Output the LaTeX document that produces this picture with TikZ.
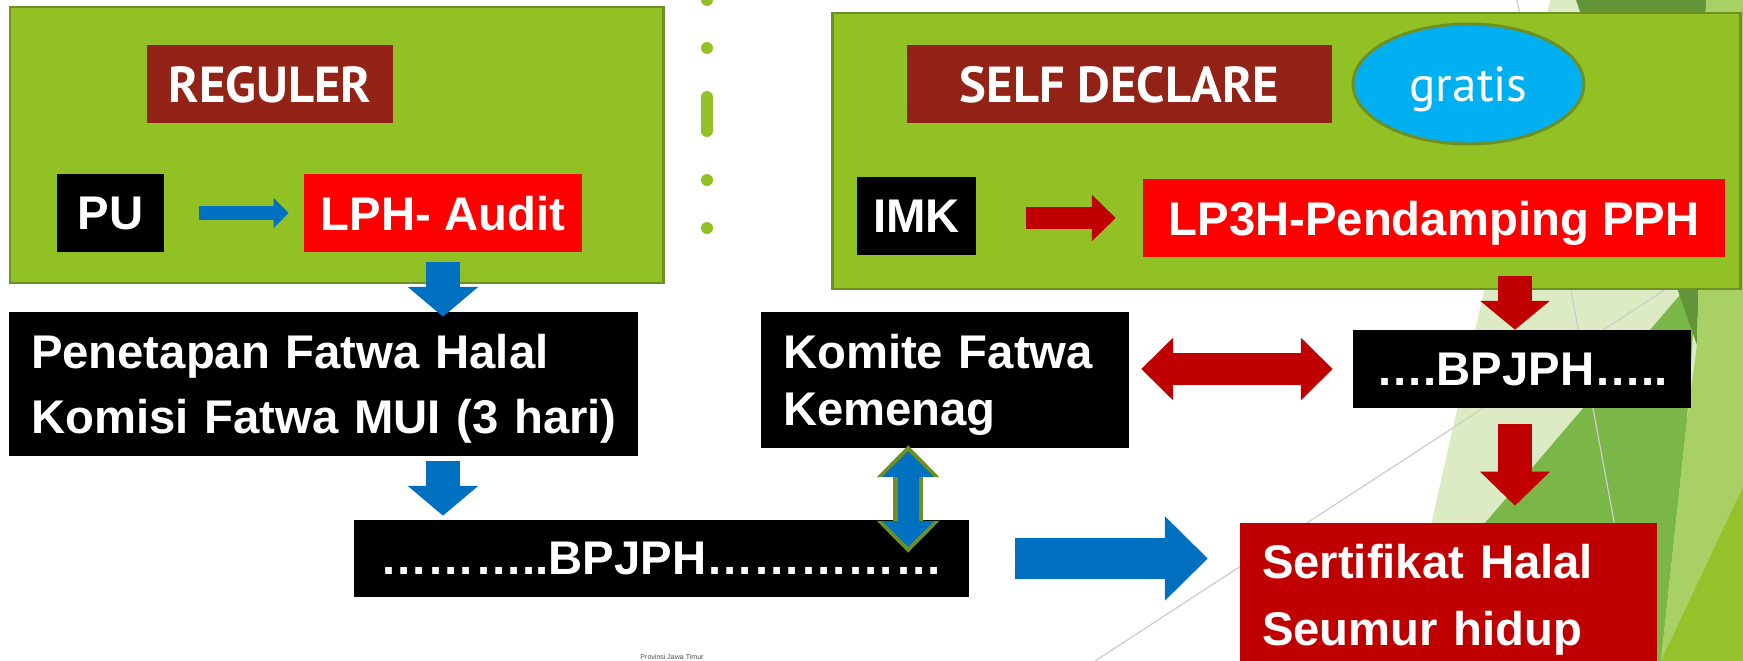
\documentclass[tikz,border=0pt]{standalone}
\usepackage{fontspec}
\setmainfont{Liberation Sans}
\newfontfamily\themefont{PT Sans}
\usetikzlibrary{arrows.meta,shapes.geometric,calc}
\definecolor{panelgreen}{RGB}{146,193,38}
\definecolor{paneledge}{RGB}{110,143,34}
\definecolor{labelbrown}{RGB}{146,35,22}
\definecolor{arrowblue}{RGB}{0,112,192}
\definecolor{arrowred}{RGB}{192,0,0}
\definecolor{skyblue}{RGB}{0,176,240}
\definecolor{facetpale}{RGB}{221,235,196}
\definecolor{facetmid}{RGB}{122,182,72}
\definecolor{facetdark}{RGB}{98,148,56}
\definecolor{facetlight}{RGB}{168,208,100}
\definecolor{facetlime}{RGB}{149,194,43}
\definecolor{facetline}{RGB}{205,205,205}
\newcommand\boxtext[1]{\bfseries\fontsize{26.9pt}{#1}\selectfont}
\tikzset{
  panel/.style={draw=paneledge, fill=panelgreen, line width=1.7pt, inner sep=0pt},
  tag/.style={fill=labelbrown, text=white, inner sep=0pt, text depth=0pt,
    font=\themefont\bfseries\fontsize{28.8pt}{34pt}\selectfont},
  box/.style={text=white, inner sep=0pt, text depth=0pt, font=\boxtext{32pt}},
  multi/.style={box, align=left, inner xsep=0.44cm, font=\boxtext{#1}, text depth=#1},
  blockarr/.style n args={3}{line width=#1, -{Triangle[length=#2, width=#3, line width=0pt]}},
  blockdbl/.style n args={3}{line width=#1,
    {Triangle[length=#2, width=#3, line width=0pt]}-{Triangle[length=#2, width=#3, line width=0pt]}}
}
\begin{document}
\begin{tikzpicture}
\useasboundingbox (0,0) rectangle (34.86,-13.22);
\clip (0,0) rectangle (34.86,-13.22);
\fill[facetpale] (31.00,0) -- (34.86,0) -- (34.86,-13.22) -- (28.00,-13.22) -- cycle;
\fill[facetmid] (27.34,-13.22) -- (33.94,-5.50) -- (33.74,-8.40) -- (33.22,-13.22) -- cycle;
\fill[facetdark] (31.52,0) -- (34.12,0) -- (33.94,-6.90) -- cycle;
\fill[facetlight] (34.12,0) -- (34.86,0) -- (34.86,-13.22) -- (33.22,-13.22) -- (33.74,-8.40) -- (33.94,-6.90) -- cycle;
\fill[facetlime] (34.86,-9.74) -- (34.86,-13.22) -- (33.22,-13.22) -- cycle;
\draw[facetline, line width=0.7pt] (30.34,0) -- (32.80,-13.22);
\draw[facetline, line width=0.7pt] (21.90,-13.22) -- (33.60,-5.60);

\foreach \y in {0,-0.96,-3.60,-4.56}
  \fill[panelgreen] (14.14,\y) circle (0.12);
\draw[panelgreen, line width=0.24cm, line cap=round] (14.14,-1.94) -- (14.14,-2.62);

\node[panel, minimum width=13.06cm, minimum height=5.52cm] (left) at (6.73,-2.90) {};
\node[panel, minimum width=18.16cm, minimum height=5.52cm] (right) at (25.72,-3.02) {};

\node[tag, minimum width=4.92cm, minimum height=1.56cm] (reg) at (5.40,-1.68) {REGULER};
\node[tag, minimum width=8.50cm, minimum height=1.56cm] (self) at (22.39,-1.68) {SELF DECLARE};
\node[ellipse, draw=paneledge, line width=1.7pt, fill=skyblue, text=white, inner sep=0pt, text depth=0pt,
  minimum width=4.62cm, minimum height=2.40cm, font=\themefont\fontsize{28pt}{34pt}\selectfont] (gratis) at (29.37,-1.68) {gratis};

\node[box, fill=black, minimum width=2.14cm, minimum height=1.56cm] (pu) at (2.21,-4.26) {PU};
\node[box, fill=red, minimum width=5.56cm, minimum height=1.56cm] (lph) at (8.86,-4.26) {LPH- Audit};
\node[box, fill=black, minimum width=2.38cm, minimum height=1.56cm] (imk) at (18.33,-4.32) {IMK};
\node[box, fill=red, minimum width=11.64cm, minimum height=1.56cm] (lp3h) at (28.68,-4.36) {LP3H-Pendamping PPH};
\node[multi=36.8pt, fill=black, text width=11.70cm, minimum height=2.88cm] (fatwa) at (6.47,-7.68) {Penetapan Fatwa Halal\\Komisi~Fatwa~MUI~(3~hari)};
\node[multi=32.3pt, fill=black, text width=6.48cm, minimum height=2.72cm] (komite) at (18.90,-7.60) {Komite Fatwa\\Kemenag};
\node[box, fill=black, minimum width=6.76cm, minimum height=1.56cm] (bpjpha) at (30.44,-7.38) {….BPJPH…..};
\node[box, fill=black, minimum width=12.30cm, minimum height=1.54cm] (bpjphb) at (13.23,-11.17) {………..BPJPH……………};
\node[multi=38pt, fill=arrowred, text width=7.46cm, minimum height=2.88cm] (sert) at (28.97,-11.90) {Sertifikat Halal\\Seumur hidup};
\node[font=\fontsize{4pt}{5pt}\selectfont, text=black!70, inner sep=0pt] (prov) at (13.44,-13.14) {Provinsi Jawa Timur};

\draw[arrowblue, blockarr={8.5pt}{8.5pt}{17pt}, shorten <=0.7cm, shorten >=0.3cm] (pu.east) -- (lph.west);
\draw[arrowblue, blockarr={19.3pt}{17pt}{40.3pt}, shorten <=0.2cm, shorten >=-0.1cm] (lph.south) -- (lph.south |- fatwa.north);
\draw[arrowblue, blockarr={19.3pt}{17pt}{40.3pt}, shorten <=0.1cm, shorten >=0.08cm] (lph.south |- fatwa.south) -- (lph.south |- bpjphb.north);
\coordinate (k) at ($(komite.south west)!0.4!(komite.south east)$);
\draw[paneledge, blockdbl={17pt}{18.1pt}{35.7pt}, shorten <=-0.06cm, shorten >=-0.66cm] (k) -- (k |- bpjphb.north);
\draw[arrowblue, blockdbl={12pt}{14.5pt}{29.5pt}, shorten <=0.06cm, shorten >=-0.54cm] (k) -- (k |- bpjphb.north);
\draw[arrowblue, blockarr={23.2pt}{24.4pt}{48.2pt}, shorten <=0.92cm, shorten >=0.64cm] (bpjphb.east) -- (bpjphb.east -| sert.west);
\draw[arrowred, blockarr={13pt}{13.6pt}{26.6pt}, shorten <=1.0cm, shorten >=0.54cm] (imk.east |- lp3h.west) -- (lp3h.west);
\draw[arrowred, blockarr={19.3pt}{16.4pt}{39.7pt}, shorten <=0.38cm] ([xshift=-0.14cm]bpjpha.north |- lp3h.south) -- ([xshift=-0.14cm]bpjpha.north);
\draw[arrowred, blockarr={19.3pt}{19.3pt}{39.7pt}, shorten <=0.32cm, shorten >=0.34cm] ([xshift=-0.14cm]bpjpha.south) -- ([xshift=-0.14cm]bpjpha.south |- sert.north);
\draw[arrowred, blockdbl={18.7pt}{18.1pt}{35.7pt}, shorten <=0.24cm, shorten >=0.4cm] (komite.east |- bpjpha.west) -- (bpjpha.west);
\end{tikzpicture}
\end{document}
